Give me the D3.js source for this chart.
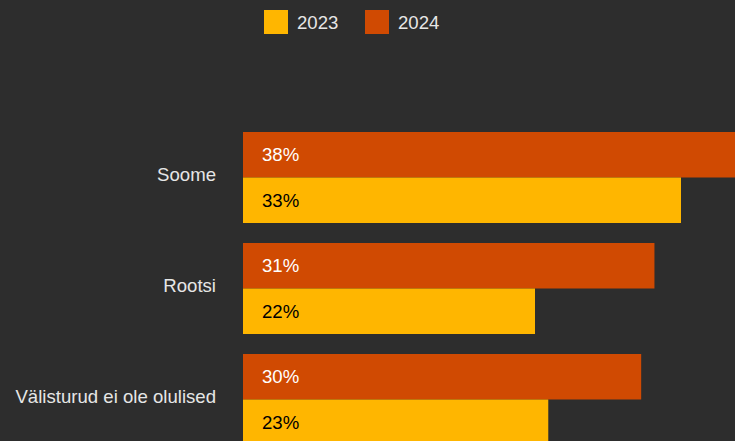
<!DOCTYPE html>
<html>
<head>
<meta charset="utf-8">
<script src="https://cdn.jsdelivr.net/npm/d3@7"></script>
<style>
  html, body { margin: 0; padding: 0; background: #2d2d2d; }
  svg { display: block; font-family: "Liberation Sans", Arial, Helvetica, sans-serif; }
</style>
</head>
<body>
<div id="chart"></div>
<script>
// data
const categories = ['Soome', 'Rootsi', 'Välisturud ei ole olulised'];
const seriesNames = ['2024', '2023'];
const values2024 = [38, 31, 30];
const values2023 = [33, 22, 23];
const legendItems = ['2023', '2024'];

const colors = { '2023': '#ffb600', '2024': '#d04a02' };
const labelColors = { '2023': '#000000', '2024': '#ffffff' };

const width = 735, height = 441;
const margin = { left: 243, top: 132 };
const fontSize = 18.6;

const svg = d3.select('#chart').append('svg')
  .attr('width', width)
  .attr('height', height);

svg.append('rect').attr('width', width).attr('height', height).attr('fill', '#2d2d2d');

const x = d3.scaleLinear().domain([0, 33]).range([0, 438]);

const y = d3.scaleBand()
  .domain(categories)
  .range([margin.top, margin.top + 3 * 111 - 20])
  .paddingInner(20 / 111)
  .paddingOuter(0);

const yInner = d3.scaleBand()
  .domain(seriesNames)
  .range([0, y.bandwidth()]);

const rows = categories.map((c, i) => ({
  cat: c,
  bars: [
    { s: '2024', v: values2024[i] },
    { s: '2023', v: values2023[i] }
  ]
}));

const g = svg.append('g').attr('transform', `translate(${margin.left},0)`);

const groups = g.selectAll('.grp')
  .data(rows)
  .join('g')
  .attr('class', 'grp')
  .attr('transform', d => `translate(0,${y(d.cat)})`);

groups.selectAll('rect')
  .data(d => d.bars)
  .join('rect')
  .attr('x', 0)
  .attr('y', d => yInner(d.s))
  .attr('width', d => x(d.v))
  .attr('height', yInner.bandwidth())
  .attr('fill', d => colors[d.s]);

groups.selectAll('text.val')
  .data(d => d.bars)
  .join('text')
  .attr('class', 'val')
  .attr('x', 19)
  .attr('y', d => yInner(d.s) + yInner.bandwidth() / 2)
  .attr('dy', '0.35em')
  .attr('font-size', fontSize)
  .attr('fill', d => labelColors[d.s])
  .text(d => d.v + '%');

// category labels
svg.selectAll('text.cat')
  .data(categories)
  .join('text')
  .attr('class', 'cat')
  .attr('x', 216)
  .attr('y', d => y(d) + y.bandwidth() / 2 - 3)
  .attr('dy', '0.35em')
  .attr('text-anchor', 'end')
  .attr('font-size', fontSize)
  .attr('fill', '#e6e6e6')
  .text(d => d);

// legend
const legend = svg.append('g').attr('transform', 'translate(264,10)');
const li = legend.selectAll('g')
  .data(legendItems)
  .join('g')
  .attr('transform', (d, i) => `translate(${i * 101},0)`);
li.append('rect').attr('width', 24).attr('height', 24).attr('fill', d => colors[d]);
li.append('text')
  .attr('x', 33)
  .attr('y', 12)
  .attr('dy', '0.35em')
  .attr('font-size', fontSize)
  .attr('fill', '#e6e6e6')
  .text(d => d);
</script>
</body>
</html>
